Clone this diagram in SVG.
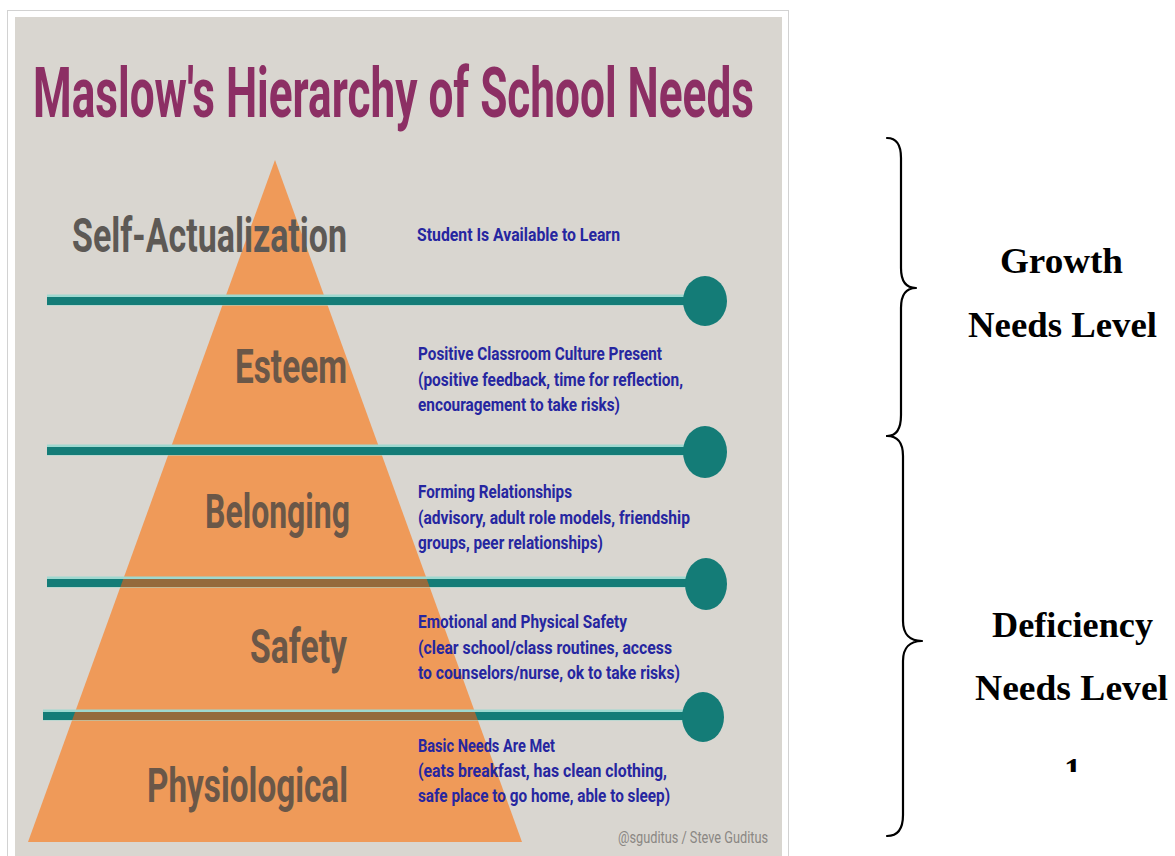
<svg xmlns="http://www.w3.org/2000/svg" width="1175" height="856" viewBox="0 0 1175 856">
  <defs>
    <style>
      .cond { font-family: "Roboto", "Liberation Sans", "DejaVu Sans", sans-serif; font-weight: 700; }
      .title { font-size: 70px; fill: #8c2f64; }
      .level { font-size: 49px; fill: #6a5748; }
      .desc { font-size: 19px; fill: #2626a0; }
      .credit { font-family: "Roboto", "Liberation Sans", sans-serif; font-size: 16px; fill: #8a8783; font-weight: 400; }
      .halo { stroke: #9ed8cf; stroke-width: 11; }
      .bar { stroke: #147c77; stroke-width: 8; }
      .bar-under { stroke: #946a3c; stroke-width: 8; }
      .knob { fill: #147c77; }
      .brace { fill: none; stroke: #000; stroke-width: 2.2; stroke-linecap: round; stroke-linejoin: round; }
      .side { font-family: "Liberation Serif", "Times New Roman", serif; font-weight: 700; font-size: 35px; fill: #000; }
    </style>
    <clipPath id="pyramidClip">
      <polygon points="275,160 522,842 28,842"/>
    </clipPath>
    <clipPath id="digitClip">
      <rect x="1040" y="740" width="60" height="32"/>
    </clipPath>
  </defs>

  <!-- page and infographic panel -->
  <rect x="0" y="0" width="1175" height="856" fill="#ffffff"/>
  <rect x="7.5" y="10.5" width="781" height="860" fill="#ffffff" stroke="#d2d2d2" stroke-width="1"/>
  <rect x="15" y="17" width="767" height="839" fill="#d9d6d0"/>

  <!-- heading -->
  <text id="title" class="cond title" x="33" y="117" textLength="721" lengthAdjust="spacingAndGlyphs">Maslow's Hierarchy of School Needs</text>

  <!-- pyramid body -->
  <polygon id="pyramid" points="275,160 522,842 28,842" fill="#ef9a59"/>

  <!-- level dividers with end knobs -->
  <g id="connectors">
    <line class="halo" x1="47" y1="300" x2="705" y2="300"/>
    <line class="bar" x1="47" y1="301" x2="705" y2="301"/>
    <ellipse class="knob" cx="705" cy="301" rx="22" ry="25"/>

    <line class="halo" x1="47" y1="450" x2="705" y2="450"/>
    <line class="bar" x1="47" y1="451" x2="705" y2="451"/>
    <ellipse class="knob" cx="705" cy="452" rx="22" ry="26"/>

    <line class="halo" x1="47" y1="582" x2="705" y2="582"/>
    <line class="bar" x1="47" y1="583" x2="705" y2="583"/>
    <line class="bar-under" x1="47" y1="583" x2="705" y2="583" clip-path="url(#pyramidClip)"/>
    <ellipse class="knob" cx="706" cy="584" rx="21" ry="26"/>

    <line class="halo" x1="43" y1="715" x2="703" y2="715"/>
    <line class="bar" x1="43" y1="716" x2="703" y2="716"/>
    <line class="bar-under" x1="43" y1="716" x2="703" y2="716" clip-path="url(#pyramidClip)"/>
    <ellipse class="knob" cx="703" cy="717" rx="21" ry="25"/>
  </g>

  <!-- levels -->
  <g id="self-actualization">
    <!-- narrow face: smaller size stretched vertically to the tall condensed look -->
    <text class="cond" x="0" y="0" transform="translate(72,252) scale(1,1.4)" style="font-size:35px;fill:#5d5955" textLength="275" lengthAdjust="spacingAndGlyphs">Self-Actualization</text>
    <text class="cond desc" x="417" y="241" textLength="203" lengthAdjust="spacingAndGlyphs">Student Is Available to Learn</text>
  </g>

  <g id="esteem">
    <text class="cond level" x="235" y="383" textLength="112" lengthAdjust="spacingAndGlyphs">Esteem</text>
    <text class="cond desc" x="418" y="360" textLength="244" lengthAdjust="spacingAndGlyphs">Positive Classroom Culture Present</text>
    <text class="cond desc" x="418" y="386" textLength="265" lengthAdjust="spacingAndGlyphs">(positive feedback, time for reflection,</text>
    <text class="cond desc" x="418" y="411" textLength="202" lengthAdjust="spacingAndGlyphs">encouragement to take risks)</text>
  </g>

  <g id="belonging">
    <text class="cond level" x="205" y="528" textLength="145" lengthAdjust="spacingAndGlyphs">Belonging</text>
    <text class="cond desc" x="418" y="498" textLength="154" lengthAdjust="spacingAndGlyphs">Forming Relationships</text>
    <text class="cond desc" x="418" y="524" textLength="272" lengthAdjust="spacingAndGlyphs">(advisory, adult role models, friendship</text>
    <text class="cond desc" x="418" y="549" textLength="185" lengthAdjust="spacingAndGlyphs">groups, peer relationships)</text>
  </g>

  <g id="safety">
    <text class="cond level" x="250" y="663" textLength="97" lengthAdjust="spacingAndGlyphs">Safety</text>
    <text class="cond desc" x="418" y="628" textLength="209" lengthAdjust="spacingAndGlyphs">Emotional and Physical Safety</text>
    <text class="cond desc" x="418" y="654" textLength="254" lengthAdjust="spacingAndGlyphs">(clear school/class routines, access</text>
    <text class="cond desc" x="418" y="679" textLength="262" lengthAdjust="spacingAndGlyphs">to counselors/nurse, ok to take risks)</text>
  </g>

  <g id="physiological">
    <text class="cond level" x="147" y="802" textLength="201" lengthAdjust="spacingAndGlyphs">Physiological</text>
    <text class="cond desc" x="418" y="752" textLength="137" lengthAdjust="spacingAndGlyphs">Basic Needs Are Met</text>
    <text class="cond desc" x="418" y="777" textLength="249" lengthAdjust="spacingAndGlyphs">(eats breakfast, has clean clothing,</text>
    <text class="cond desc" x="418" y="802" textLength="252" lengthAdjust="spacingAndGlyphs">safe place to go home, able to sleep)</text>
  </g>

  <text id="credit" class="credit" x="618" y="843" textLength="150" lengthAdjust="spacingAndGlyphs">@sguditus / Steve Guditus</text>

  <!-- grouping braces -->
  <g id="growth-group">
    <path class="brace" d="M887,138 C897,138 901,145 901,158 L901,268 C901,281 906,288 916,288 C906,288 901,295 901,308 L901,415 C901,428 897,436 887,436"/>
    <text class="side" x="1000" y="273" textLength="123" lengthAdjust="spacingAndGlyphs">Growth</text>
    <text class="side" x="968" y="337" textLength="189" lengthAdjust="spacingAndGlyphs">Needs Level</text>
  </g>

  <g id="deficiency-group">
    <path class="brace" d="M887,436 C898,436 903,443 903,456 L903,621 C903,634 910,641 922,641 C910,641 903,648 903,661 L903,815 C903,828 898,836 887,836"/>
    <text class="side" x="992" y="637" textLength="161" lengthAdjust="spacingAndGlyphs">Deficiency</text>
    <text class="side" x="975" y="700" textLength="193" lengthAdjust="spacingAndGlyphs">Needs Level</text>
    <text class="side" x="1064" y="783" clip-path="url(#digitClip)">1</text>
  </g>
</svg>
